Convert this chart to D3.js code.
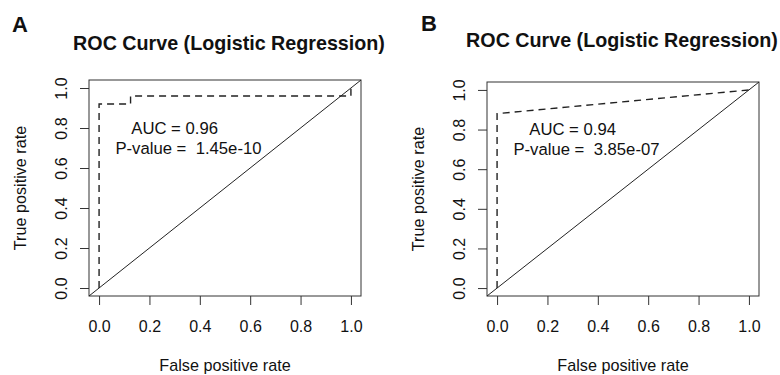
<html>
<head>
<style>
  body { margin: 0; background: #fff; }
  text { font-family: "Liberation Sans", Arial, sans-serif; fill: #111; }
</style>
<script src="https://cdnjs.cloudflare.com/ajax/libs/d3/7.8.5/d3.min.js"></script>
</head>
<body>
<script>
// chart data
const tickValues = [0, 0.2, 0.4, 0.6, 0.8, 1.0];
const panelLetters = ["A", "B"];
const titles = ["ROC Curve (Logistic Regression)", "ROC Curve (Logistic Regression)"];
const fprA = [0, 0, 0.125, 0.125, 1, 1];
const tprA = [0, 0.92, 0.92, 0.96, 0.96, 1];
const fprB = [0, 0, 1];
const tprB = [0, 0.88, 1];
const aucValues = ["0.96", "0.94"];
const pValues = ["1.45e-10", "3.85e-07"];

// panel boxes (pixels) - B sits a touch lower than A in the source
const boxes = [
  { left: 89, right: 361, top: 80, bottom: 296, titleX: 229, titleY: 50, letterX: 12, letterY: 32 },
  { left: 487, right: 759, top: 82, bottom: 296, titleX: 622, titleY: 47, letterX: 421, letterY: 31 }
];
const curves = [
  fprA.map((x, i) => [x, tprA[i]]),
  fprB.map((x, i) => [x, tprB[i]])
];

const svg = d3.select("body").append("svg")
  .attr("width", 780)
  .attr("height", 375);

boxes.forEach((b, i) => {
  const x = d3.scaleLinear().domain([-0.04, 1.04]).range([b.left, b.right]);
  const y = d3.scaleLinear().domain([-0.04, 1.04]).range([b.bottom, b.top]);
  const g = svg.append("g");

  // panel letter
  g.append("text")
    .attr("x", b.letterX).attr("y", b.letterY)
    .attr("font-size", 22).attr("font-weight", "bold")
    .text(panelLetters[i]);

  // title
  g.append("text")
    .attr("x", b.titleX).attr("y", b.titleY)
    .attr("text-anchor", "middle")
    .attr("font-size", 19.7).attr("font-weight", "bold")
    .text(titles[i]);

  // x axis
  const xa = g.append("g")
    .attr("transform", `translate(0,${b.bottom})`)
    .call(d3.axisBottom(x).tickValues(tickValues).tickFormat(d3.format(".1f"))
      .tickSize(9).tickSizeOuter(0).tickPadding(16));
  xa.select(".domain").remove();
  xa.selectAll("line").attr("stroke", "#333");
  xa.selectAll("text").attr("font-size", 16).attr("fill", "#111")
    .style("font-family", '"Liberation Sans", Arial, sans-serif');

  // y axis, labels rotated like base R
  const ya = g.append("g")
    .attr("transform", `translate(${b.left},0)`)
    .call(d3.axisLeft(y).tickValues(tickValues).tickFormat(d3.format(".1f"))
      .tickSize(9).tickSizeOuter(0));
  ya.select(".domain").remove();
  ya.selectAll("line").attr("stroke", "#333");
  ya.selectAll("text")
    .attr("x", null).attr("dy", null)
    .attr("text-anchor", "middle")
    .attr("transform", "translate(-22,0) rotate(-90)")
    .attr("font-size", 16).attr("fill", "#111")
    .style("font-family", '"Liberation Sans", Arial, sans-serif');

  // axis titles
  g.append("text")
    .attr("x", (b.left + b.right) / 2).attr("y", 371)
    .attr("text-anchor", "middle").attr("font-size", 16.2)
    .text("False positive rate");
  g.append("text")
    .attr("transform", `translate(${b.left - 63},${(b.top + b.bottom) / 2}) rotate(-90)`)
    .attr("text-anchor", "middle").attr("font-size", 16.2)
    .text("True positive rate");

  // plot box
  g.append("rect")
    .attr("x", b.left).attr("y", b.top)
    .attr("width", b.right - b.left).attr("height", b.bottom - b.top)
    .attr("fill", "none").attr("stroke", "#333").attr("stroke-width", 1);

  // reference diagonal (abline 0,1 across the whole region)
  g.append("line")
    .attr("x1", x(-0.04)).attr("y1", y(-0.04))
    .attr("x2", x(1.04)).attr("y2", y(1.04))
    .attr("stroke", "#222").attr("stroke-width", 1);

  // ROC curve
  g.append("path")
    .datum(curves[i])
    .attr("d", d3.line().x(d => x(d[0])).y(d => y(d[1])))
    .attr("fill", "none").attr("stroke", "#222")
    .attr("stroke-width", 1.4).attr("stroke-dasharray", "7,5");

  // annotations
  g.append("text")
    .attr("x", x(0.3)).attr("y", y(0.8))
    .attr("text-anchor", "middle").attr("dominant-baseline", "central")
    .attr("font-size", 16.7)
    .text("AUC = " + aucValues[i]);
  g.append("text")
    .attr("x", x(0.355)).attr("y", y(0.7))
    .attr("text-anchor", "middle").attr("dominant-baseline", "central")
    .attr("font-size", 16.7)
    .style("white-space", "pre")
    .text("P-value =  " + pValues[i]);
});
</script>
</body>
</html>
